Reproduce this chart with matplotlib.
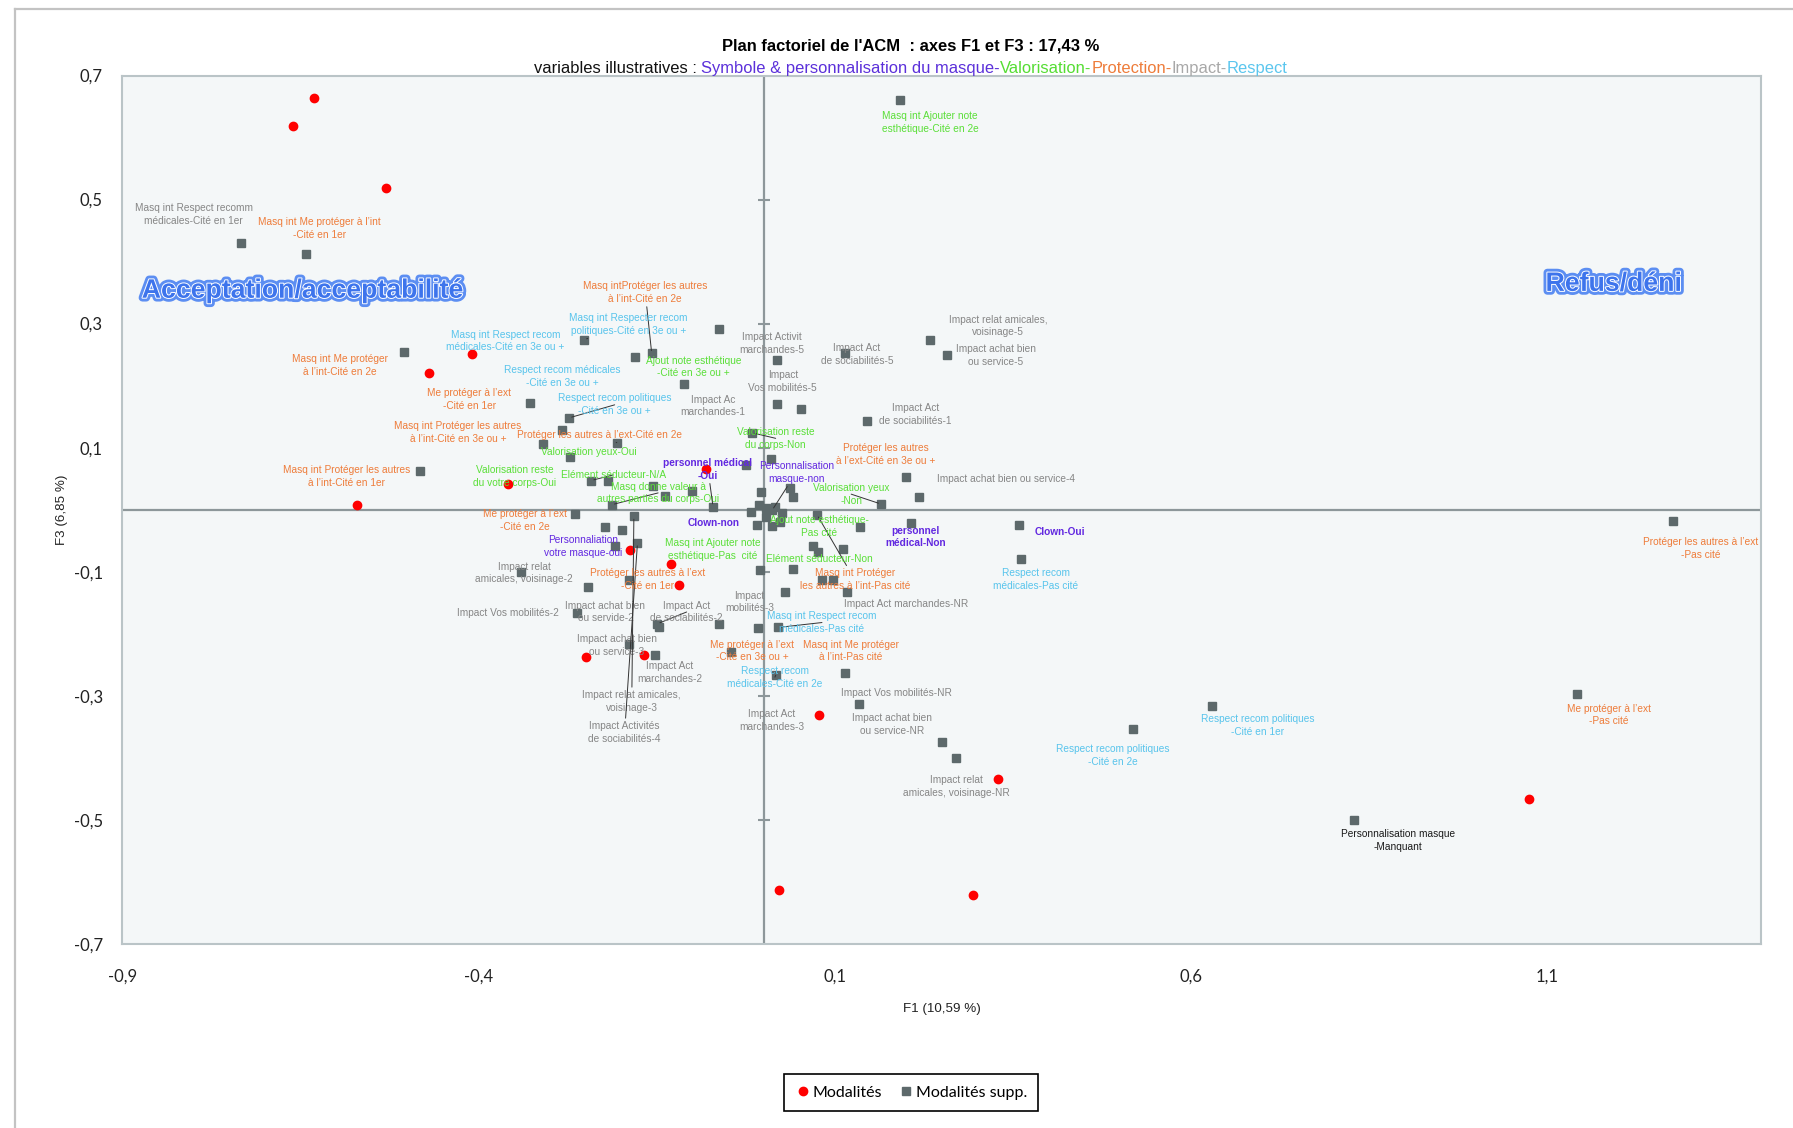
import matplotlib
matplotlib.use("Agg")
import matplotlib.pyplot as plt
import matplotlib.patheffects as pe
from matplotlib.lines import Line2D
from matplotlib import font_manager

# ---------------- data ----------------
act_f1 = [-0.631, -0.660, -0.530, -0.470, -0.409, -0.358, -0.571, -0.081, -0.187,
          -0.130, -0.118, -0.249, -0.168, 0.078, 0.329, 0.021, 0.294, 1.074]
act_f3 = [0.663, 0.619, 0.519, 0.220, 0.251, 0.041, 0.007, 0.065, -0.065,
          -0.087, -0.122, -0.237, -0.234, -0.331, -0.434, -0.614, -0.622, -0.466]

sup_f1 = [0.191, -0.733, -0.642, -0.505, -0.252, -0.062, -0.180, -0.157, -0.111, -0.328,
          -0.273, -0.283, -0.206, -0.309, -0.271, -0.482, -0.242, -0.219, -0.155, -0.139,
          -0.213, -0.100, -0.071, -0.025, -0.016, 0.011, 0.019, 0.019, 0.053, 0.114,
          0.145, 0.234, 0.257, 0.200, 0.037, -0.004, 0.042, 0.218, 0.165, 0.026,
          0.075, 0.135, 0.207, 0.359, 0.362, 0.070, 0.077, 0.112, 0.041, 0.082,
          0.097, 0.030, 0.117, -0.018, -0.006, 0.003, 0.012, 0.016, -0.009, 0.012,
          0.023, 0.003, -0.264, -0.182, -0.222, -0.198, -0.208, -0.177, -0.340, -0.246,
          -0.189, -0.262, -0.149, -0.147, -0.062, -0.008, 0.020, -0.005, -0.189, -0.152,
          -0.045, 0.017, 0.114, 0.134, 0.250, 0.270, 0.629, 0.518, 1.142, 1.277, 0.829]
sup_f3 = [0.661, 0.430, 0.412, 0.254, 0.274, 0.291, 0.246, 0.252, 0.202, 0.172,
          0.148, 0.129, 0.108, 0.106, 0.085, 0.062, 0.047, 0.047, 0.038, 0.022,
          0.008, 0.030, 0.005, 0.072, 0.124, 0.081, 0.242, 0.170, 0.163, 0.252,
          0.143, 0.274, 0.249, 0.052, 0.035, 0.028, 0.020, 0.021, 0.009, -0.005,
          -0.008, -0.028, -0.021, -0.025, -0.079, -0.059, -0.069, -0.063, -0.095, -0.114,
          -0.114, -0.133, -0.133, -0.003, 0.007, 0.002, -0.001, 0.004, -0.024, -0.026,
          -0.020, -0.012, -0.007, -0.011, -0.028, -0.032, -0.059, -0.054, -0.101, -0.125,
          -0.114, -0.167, -0.184, -0.190, -0.184, -0.191, -0.190, -0.098, -0.217, -0.235,
          -0.230, -0.267, -0.264, -0.314, -0.374, -0.400, -0.316, -0.353, -0.298, -0.019, -0.501]

label_texts = [
    "Masq int Respect recomm\nmédicales-Cité en 1er",
    "Impact Activit\nmarchandes-5",
    "Impact Act\nde sociabilités-5",
    "Impact\nVos mobilités-5",
    "Impact Ac\nmarchandes-1",
    "Impact Act\nde sociabilités-1",
    "Impact relat amicales,\nvoisinage-5",
    "Impact achat bien\nou service-5",
    "Impact achat bien ou service-4",
    "Impact Act marchandes-NR",
    "Impact\nmobilités-3",
    "Impact relat\namicales, voisinage-2",
    "Impact Vos mobilités-2",
    "Impact achat bien\nou servide-2",
    "Impact Act\nde sociabilités-2",
    "Impact achat bien\nou service-3",
    "Impact Act\nmarchandes-2",
    "Impact relat amicales,\nvoisinage-3",
    "Impact Activités\nde sociabilités-4",
    "Impact Act\nmarchandes-3",
    "Impact Vos mobilités-NR",
    "Impact achat bien\nou service-NR",
    "Impact relat\namicales, voisinage-NR",
    "Personnalisation masque\n-Manquant",
    "Masq int Me protéger à l’int\n-Cité en 1er",
    "Masq intProtéger les autres\nà l’int-Cité en 2e",
    "Masq int Me protéger\nà l’int-Cité en 2e",
    "Me protéger à l’ext\n-Cité en 1er",
    "Masq int Protéger les autres\nà l’int-Cité en 3e ou +",
    "Protéger les autres à l’ext-Cité en 2e",
    "Masq int Protéger les autres\nà l’int-Cité en 1er",
    "Me protéger à l’ext\n-Cité en 2e",
    "Protéger les autres à l’ext\n-Cité en 1er",
    "Protéger les autres\nà l’ext-Cité en 3e ou +",
    "Masq int Protéger\nles autres à l’int-Pas cité",
    "Me protéger à l’ext\n-Cité en 3e ou +",
    "Masq int Me protéger\nà l’int-Pas cité",
    "Protéger les autres à l’ext\n-Pas cité",
    "Me protéger à l’ext\n-Pas cité",
    "Masq int Respect recom\nmédicales-Cité en 3e ou +",
    "Masq int Respecter recom\npolitiques-Cité en 3e ou +",
    "Respect recom médicales\n-Cité en 3e ou +",
    "Respect recom politiques\n-Cité en 3e ou +",
    "Masq int Respect recom\nmédicales-Pas cité",
    "Respect recom\nmédicales-Cité en 2e",
    "Respect recom\nmédicales-Pas cité",
    "Respect recom politiques\n-Cité en 1er",
    "Respect recom politiques\n-Cité en 2e",
    "Masq int Ajouter note\nesthétique-Cité en 2e",
    "Ajout note esthétique\n-Cité en 3e ou +",
    "Valorisation reste\ndu corps-Non",
    "Valorisation yeux-Oui",
    "Valorisation reste\ndu votre corps-Oui",
    "Elément séducteur-N/A",
    "Masq donne valeur à\nautres parties du corps-Oui",
    "Valorisation yeux\n-Non",
    "Ajout note esthétique-\nPas cité",
    "Masq int Ajouter note\nesthétique-Pas  cité",
    "Elément séducteur-Non",
    "personnel médical\n-Oui",
    "Personnalisation\nmasque-non",
    "Clown-non",
    "Personnaliation\nvotre masque-oui",
    "personnel\nmédical-Non",
    "Clown-Oui",
]
label_groups = (["impact"] * 23 + ["other"] + ["protection"] * 15 + ["respect"] * 9
                + ["valorisation"] * 11 + ["symbole"] * 6)

x_ticks = [-0.9, -0.4, 0.1, 0.6, 1.1]
y_ticks = [0.7, 0.5, 0.3, 0.1, -0.1, -0.3, -0.5, -0.7]

# ---------------- layout / style ----------------
label_xy = [
    (-0.800, 0.476), (0.011, 0.268), (0.131, 0.250), (0.027, 0.206), (-0.071, 0.167),
    (0.213, 0.154), (0.329, 0.296), (0.326, 0.248), (0.340, 0.049), (0.200, -0.152),
    (-0.020, -0.149), (-0.336, -0.102), (-0.359, -0.167), (-0.222, -0.165), (-0.108, -0.165),
    (-0.206, -0.219), (-0.132, -0.263), (-0.185, -0.309), (-0.195, -0.359), (0.011, -0.340),
    (0.186, -0.296), (0.180, -0.346), (0.271, -0.447), (0.891, -0.534), (-0.623, 0.453),
    (-0.166, 0.350), (-0.595, 0.233), (-0.413, 0.178), (-0.429, 0.125), (-0.230, 0.121),
    (-0.585, 0.053), (-0.335, -0.018), (-0.163, -0.113), (0.171, 0.089), (0.128, -0.113),
    (-0.016, -0.228), (0.123, -0.228), (1.315, -0.062), (1.187, -0.331), (-0.362, 0.272),
    (-0.190, 0.299), (-0.282, 0.215), (-0.209, 0.169), (0.082, -0.182), (0.016, -0.270),
    (0.382, -0.112), (0.694, -0.348), (0.490, -0.396), (0.234, 0.624), (-0.098, 0.230),
    (0.017, 0.115), (-0.245, 0.093), (-0.349, 0.053), (-0.211, 0.056), (-0.148, 0.027),
    (0.123, 0.025), (0.078, -0.027), (-0.071, -0.064), (0.078, -0.080), (-0.078, 0.065),
    (0.046, 0.060), (-0.070, -0.021), (-0.253, -0.060), (0.213, -0.044), (0.416, -0.036),
]
bold_labels = {59, 61, 63, 64}
# leader lines: label index -> supplementary point index
leaders = {40: 4, 25: 7, 42: 10, 29: 12, 53: 16, 54: 20, 59: 22, 60: 56, 50: 24,
           55: 38, 34: 40, 43: 76, 44: 81, 14: 72, 17: 63, 18: 67}

group_colors = {
    "impact": "#868686",
    "other": "#1A1A1A",
    "protection": "#EE7C3A",
    "respect": "#58C4EC",
    "valorisation": "#5ADF38",
    "symbole": "#6228E0",
}
RED = "#FF0000"
SQ = "#5D696B"

names = {f.name for f in font_manager.fontManager.ttflist}
if "Liberation Sans Narrow" in names:
    NARROW, k = "Liberation Sans Narrow", 1.0
else:
    NARROW, k = "Liberation Sans", 0.84
LBL_FONT = NARROW
LBL_SIZE = 8.7 * k
ROUND = "Lato"

fig = plt.figure(figsize=(17.93, 11.28), dpi=100)
fig.patch.set_facecolor("white")
ax = fig.add_axes([0.06824, 0.16329, 0.91390, 0.76977])
ax.set_xlim(-0.9, 1.4)
ax.set_ylim(-0.7, 0.7)
ax.set_facecolor("#F4F7F8")
for s in ax.spines.values():
    s.set_color("#BAC4C7")
    s.set_linewidth(1.5)

AXC = "#8D979A"
ax.axhline(0, color=AXC, lw=1.6, zorder=1)
ax.axvline(0, color=AXC, lw=1.6, zorder=1)
for t in y_ticks:
    if abs(t) < 0.69:
        ax.plot([0], [t], marker="_", ms=9, mew=1.5, color=AXC, zorder=1)

ax.set_xticks(x_ticks)
ax.set_xticklabels([f"{v:.1f}".replace(".", ",") for v in x_ticks])
ax.set_yticks(y_ticks)
ax.set_yticklabels([f"{v:.1f}".replace(".", ",") for v in y_ticks])
ax.tick_params(length=0, labelsize=12, colors="#222222")
ax.tick_params(axis="y", pad=14)
ax.tick_params(axis="x", pad=18)
for lab in ax.get_xticklabels() + ax.get_yticklabels():
    lab.set_fontfamily(ROUND)

ax.set_xlabel("F1 (10,59 %)", fontsize=11.5 * k, family=NARROW, color="#222222")
ax.xaxis.set_label_coords(0.5, -0.068)
ax.set_ylabel("F3 (6,85 %)", fontsize=11.5 * k, family=NARROW, color="#222222")
ax.yaxis.set_label_coords(-0.033, 0.5)

ax.plot(act_f1, act_f3, linestyle="none", marker="o", ms=6, color=RED, zorder=3,
        label="Modalités")
ax.plot(sup_f1, sup_f3, linestyle="none", marker="s", ms=5.8, color=SQ, zorder=4,
        label="Modalités supp.")

for i, (txt, grp) in enumerate(zip(label_texts, label_groups)):
    lx, ly = label_xy[i]
    kw = dict(ha="center", va="center", multialignment="center",
              fontsize=LBL_SIZE, family=LBL_FONT, color=group_colors[grp],
              fontweight="bold" if i in bold_labels else "normal",
              linespacing=1.35, zorder=5)
    if i in leaders:
        j = leaders[i]
        ax.annotate(txt, xy=(sup_f1[j], sup_f3[j]), xytext=(lx, ly),
                    textcoords="data",
                    arrowprops=dict(arrowstyle="-", color="#333333", lw=0.7,
                                    shrinkA=0, shrinkB=2), **kw)
    else:
        ax.text(lx, ly, txt, **kw)

# WordArt-like zone titles
art = [pe.Stroke(linewidth=5.5, foreground="#5C8EF2"),
       pe.Stroke(linewidth=1.4, foreground="white"), pe.Normal()]
ax.text(-0.648, 0.353, "Acceptation/acceptabilité", ha="center", va="center",
        fontsize=19.2, fontweight="bold", family="Liberation Sans", color="#3D74EC",
        path_effects=art, zorder=6)
ax.text(1.193, 0.364, "Refus/déni", ha="center", va="center",
        fontsize=19.2, fontweight="bold", family="Liberation Sans", color="#3D74EC",
        path_effects=art, zorder=6)

# title
fig.text(0.508, 1 - 40 / 986, "Plan factoriel de l'ACM  : axes F1 et F3 : 17,43 %",
         ha="center", va="center", fontsize=14.2 * k, fontweight="bold", family=NARROW)

# multicoloured subtitle
pieces = [("variables illustratives :", "#111111"),
          ("Symbole & personnalisation du masque-", "#5B30DA"),
          ("Valorisation-", "#55DD33"),
          ("Protection-", "#EE7C3A"),
          ("Impact-", "#A8A8A8"),
          ("Respect", "#5BC6EE")]
sub_y = 1 - 64 / 986
renderer = fig.canvas.get_renderer()
fs_sub = 14.1 * k
texts = [fig.text(0, sub_y, s, color=c, fontsize=fs_sub, family=NARROW,
                  ha="left", va="baseline") for s, c in pieces]
probe1 = fig.text(0, 0, "a a", fontsize=fs_sub, family=NARROW)
probe2 = fig.text(0, 0, "aa", fontsize=fs_sub, family=NARROW)
space_w = (probe1.get_window_extent(renderer).width
           - probe2.get_window_extent(renderer).width)
probe1.remove()
probe2.remove()
widths = [t.get_window_extent(renderer).width for t in texts]
widths[0] += space_w
W = fig.get_size_inches()[0] * fig.dpi
cur = 0.508 * W - sum(widths) / 2
for t, w in zip(texts, widths):
    t.set_x(cur / W)
    cur += w

# legend
handles = [Line2D([], [], linestyle="none", marker="o", ms=6, color=RED),
           Line2D([], [], linestyle="none", marker="s", ms=5.8, color=SQ)]
leg = fig.legend(handles, ["Modalités", "Modalités supp."], loc="center",
                 bbox_to_anchor=(0.508, 0.0315), ncol=2, frameon=True,
                 fancybox=False, edgecolor="black", framealpha=1,
                 prop={"family": ROUND, "size": 11.5}, handletextpad=0.1,
                 handlelength=1.0, columnspacing=1.0, borderpad=0.7)
leg.get_frame().set_linewidth(1.2)

# outer chart frame
fig.add_artist(Line2D([13 / 1568, 13 / 1568], [0, 1 - 8 / 986],
                      transform=fig.transFigure, color="#C3C3C3", lw=1.6))
fig.add_artist(Line2D([13 / 1568, 1], [1 - 8 / 986, 1 - 8 / 986],
                      transform=fig.transFigure, color="#C3C3C3", lw=1.6))

fig.savefig("out.png", dpi=100)
